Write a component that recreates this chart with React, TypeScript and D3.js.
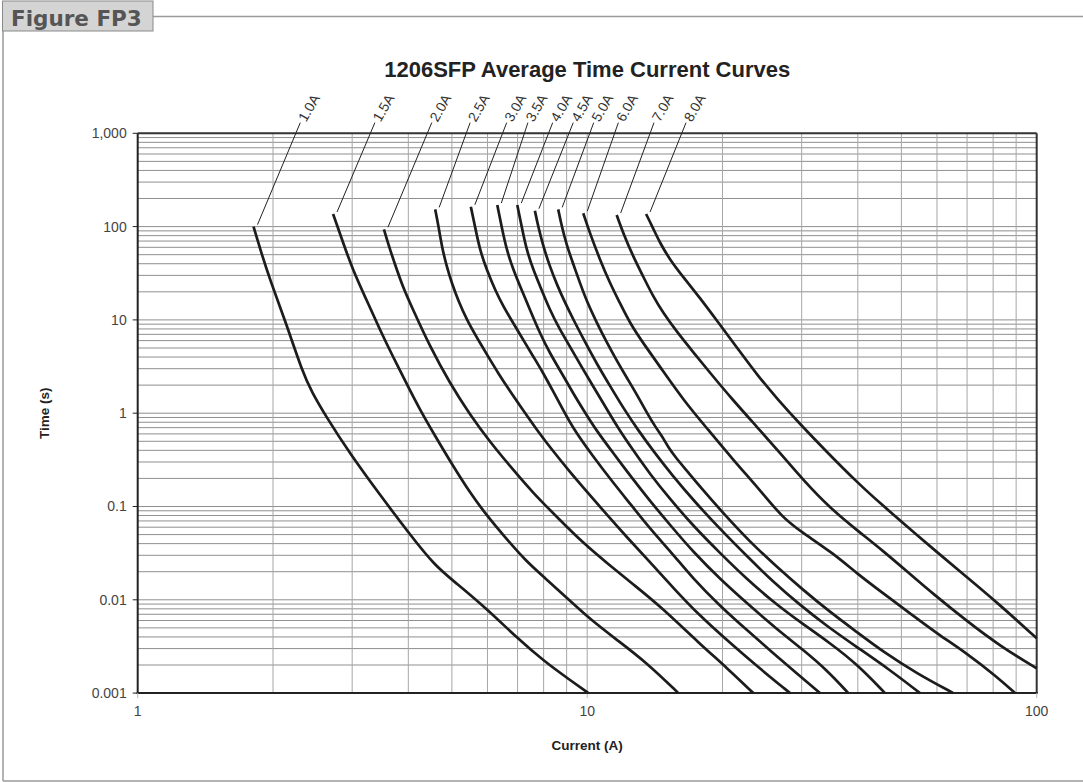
import * as d3 from "d3";

// fuse ratings, left to right
const RATINGS = ["1.0A", "1.5A", "2.0A", "2.5A", "3.0A", "3.5A", "4.0A", "4.5A", "5.0A", "6.0A", "7.0A", "8.0A"];

// [current (A), time (s)]
const curve1_0: [number, number][] = [
  [1.81, 100], [1.89, 49.6], [1.97, 26.8], [2.13, 9.73], [2.33, 2.7], [2.44, 1.69], [2.62, 0.933], [2.97, 0.365],
  [3.46, 0.133], [4.04, 0.0495], [4.59, 0.023], [5.08, 0.0155], [6.02, 0.00777], [6.98, 0.0039], [8.06, 0.00215],
  [9.16, 0.00138], [10.06, 0.001],
];
const curve1_5: [number, number][] = [
  [2.72, 136.5], [2.776, 104], [2.85, 71.8], [3.01, 34.3], [3.23, 16.3], [3.46, 7.79], [3.7, 4.0], [4.0, 1.91],
  [4.25, 1.08], [4.59, 0.569], [5.03, 0.272], [5.49, 0.14], [5.99, 0.0791], [6.56, 0.0471], [7.27, 0.0267],
  [8.06, 0.0171], [9.02, 0.01045], [10.14, 0.00622], [11.65, 0.00371], [13.59, 0.0021], [15.95, 0.001],
];
const curve2_0: [number, number][] = [
  [3.53, 93.6], [3.62, 62], [3.74, 38.8], [3.89, 22.5], [4.1, 12.8], [4.47, 5.16], [4.95, 2.09], [5.49, 0.956],
  [6.08, 0.491], [6.73, 0.272], [7.57, 0.14], [8.61, 0.0753], [9.79, 0.0406], [11.13, 0.0242], [12.71, 0.0144],
  [14.52, 0.00858], [17.82, 0.00336], [20.47, 0.00186], [23.42, 0.001],
];
const curve2_5: [number, number][] = [
  [4.59, 153], [4.67, 100], [4.75, 60.9], [4.87, 37.2], [5.0, 24.7], [5.17, 15.9], [5.4, 9.97], [5.69, 6.4],
  [5.99, 4.21], [6.34, 2.68], [6.73, 1.73], [7.2, 1.08], [7.73, 0.661], [8.39, 0.393], [9.16, 0.234],
  [10.04, 0.14], [11.07, 0.0811], [12.24, 0.0471], [13.79, 0.0254], [15.54, 0.0134], [17.82, 0.0067],
  [20.44, 0.00371], [23.42, 0.00209], [28.27, 0.001],
];
const curve3_0: [number, number][] = [
  [5.51, 163], [5.63, 100], [5.77, 56.1], [5.98, 34.3], [6.24, 20.9], [6.51, 13.9], [6.85, 9.2], [7.21, 6.09],
  [7.59, 4.03], [7.99, 2.68], [8.39, 1.73], [8.84, 1.08], [9.35, 0.661], [10.25, 0.356], [11.3, 0.192],
  [12.52, 0.104], [13.87, 0.056], [15.44, 0.0317], [17.22, 0.0167], [19.74, 0.00858], [22.64, 0.00475],
  [25.94, 0.00267], [29.24, 0.00163], [32.95, 0.001],
];
const curve3_5: [number, number][] = [
  [6.31, 170], [6.45, 100], [6.62, 56.1], [6.85, 34.3], [7.15, 20.9], [7.46, 12.8], [7.85, 7.18], [8.26, 4.39],
  [8.78, 2.68], [9.31, 1.63], [9.84, 1.056], [10.46, 0.661], [11.42, 0.375], [12.58, 0.202], [13.79, 0.115],
  [15.29, 0.0633], [17.22, 0.0325], [19.74, 0.0167], [23.03, 0.00858], [26.4, 0.00486], [30.25, 0.0029],
  [34.11, 0.00177], [38.1, 0.001],
];
const curve4_0: [number, number][] = [
  [6.99, 170], [7.15, 100], [7.33, 56.1], [7.59, 34.3], [7.92, 20.9], [8.26, 12.8], [8.7, 7.79], [9.16, 5.16],
  [9.69, 3.21], [10.3, 1.96], [10.95, 1.195], [11.71, 0.694], [12.64, 0.403], [13.79, 0.223], [15.29, 0.12],
  [17.22, 0.0618], [19.74, 0.0317], [22.64, 0.0167], [25.94, 0.00947], [29.74, 0.00578], [34.68, 0.00344],
  [39.78, 0.00205], [45.98, 0.001],
];
const curve4_5: [number, number][] = [
  [7.65, 148], [7.78, 100], [7.99, 60.9], [8.26, 37.2], [8.57, 23.7], [8.93, 15.2], [9.35, 9.73], [9.89, 5.8],
  [10.51, 3.37], [11.24, 1.96], [12.07, 1.11], [12.97, 0.661], [14.08, 0.384], [15.44, 0.218], [17.22, 0.117],
  [19.74, 0.0574], [22.64, 0.0295], [25.94, 0.0155], [29.74, 0.0088], [34.11, 0.00524], [39.78, 0.00312],
  [47.17, 0.00177], [55.0, 0.001],
];
const curve5_0: [number, number][] = [
  [8.62, 153], [8.78, 100], [9.0, 63.5], [9.31, 39.7], [9.64, 24.7], [9.99, 15.6], [10.51, 9.26], [11.07, 5.66],
  [11.65, 3.63], [12.26, 2.38], [12.91, 1.57], [13.59, 1.0], [14.23, 0.694], [14.67, 0.569], [15.13, 0.434],
  [15.76, 0.331], [16.76, 0.234], [17.82, 0.163], [20.08, 0.0846], [23.03, 0.0416], [26.4, 0.0226],
  [30.25, 0.0127], [34.68, 0.0074], [39.78, 0.00452], [45.58, 0.00276], [54.08, 0.00163], [65.24, 0.001],
];
const curve6_0: [number, number][] = [
  [9.8, 139], [10.14, 84.8], [10.68, 43.9], [11.24, 24.7], [11.83, 15.1], [12.45, 9.2], [13.33, 5.61],
  [14.52, 3.15], [16.36, 1.385], [18.6, 0.661], [21.14, 0.315], [24.24, 0.15], [27.13, 0.0772], [29.74, 0.0546],
  [35.28, 0.0315], [39.78, 0.0192], [45.58, 0.0117], [52.25, 0.00717], [59.93, 0.00437], [69.88, 0.00267],
  [81.47, 0.0015], [89.47, 0.001],
];
const curve7_0: [number, number][] = [
  [11.63, 133], [12.03, 84.8], [12.66, 47.6], [13.33, 29], [14.03, 17.7], [14.77, 11.8], [15.84, 7.42],
  [17.2, 4.53], [18.86, 2.63], [20.99, 1.42], [23.87, 0.711], [27.31, 0.342], [30.25, 0.192], [34.68, 0.0964],
  [39.78, 0.056], [45.58, 0.0333], [52.25, 0.0189], [58.88, 0.01154], [69.88, 0.00593], [82.86, 0.0032],
  [100, 0.00184],
];
const curve8_0: [number, number][] = [
  [13.52, 136.5], [13.94, 101.5], [14.52, 66.7], [15.29, 43.9], [16.42, 28.1], [17.82, 17.2], [19.54, 9.49],
  [21.65, 4.88], [23.99, 2.5], [26.62, 1.385], [29.74, 0.766], [33.98, 0.393], [39.78, 0.183], [45.58, 0.1012],
  [52.25, 0.0574], [58.88, 0.035], [69.88, 0.01755], [82.86, 0.0088], [100, 0.00387],
];

const CURVES = [curve1_0, curve1_5, curve2_0, curve2_5, curve3_0, curve3_5, curve4_0, curve4_5, curve5_0, curve6_0, curve7_0, curve8_0];

// where the leader lines end, above the plot
const LABEL_CURRENTS = [2.3, 3.37, 4.51, 5.49, 6.62, 7.38, 8.38, 9.31, 10.34, 11.73, 14.08, 16.59];
const LABEL_TIME = 1300;

const X_TICKS = [1, 10, 100];
const X_TICK_LABELS = ["1", "10", "100"];
const Y_TICKS = [1000, 100, 10, 1, 0.1, 0.01, 0.001];
const Y_TICK_LABELS = ["1,000", "100", "10", "1", "0.1", "0.01", "0.001"];

const W = 1083;
const H = 782;
const PLOT = { left: 137.7, right: 1036.7, top: 133.3, bottom: 693.1 };
const FONT = "'Liberation Sans', Arial, sans-serif";

export default function App() {
  const x = d3.scaleLog().domain([1, 100]).range([PLOT.left, PLOT.right]);
  const y = d3.scaleLog().domain([0.001, 1000]).range([PLOT.bottom, PLOT.top]);

  const line = d3
    .line<[number, number]>()
    .x((d) => x(d[0]))
    .y((d) => y(d[1]))
    .curve(d3.curveBasis);

  // minor grid values
  const vGrid: number[] = [];
  for (const dec of [1, 10]) for (let k = 2; k <= 9; k++) vGrid.push(k * dec);
  vGrid.push(10);
  const hGrid: number[] = [];
  for (const dec of [0.001, 0.01, 0.1, 1, 10, 100]) for (let k = 1; k <= 9; k++) hGrid.push(k * dec);

  return (
    <div style={{ position: "absolute", left: 0, top: 0 }}>
      <svg width={W} height={H} fontFamily={FONT}>
        <rect width={W} height={H} fill="#fff" />

        {/* figure frame */}
        <line x1={3} y1={31} x2={3} y2={781} stroke="#9a9a9a" strokeWidth={1.5} />
        <line x1={153} y1={16.5} x2={W} y2={16.5} stroke="#9a9a9a" strokeWidth={1.5} />
        <line x1={3} y1={781} x2={W} y2={781} stroke="#9a9a9a" strokeWidth={1.5} />
        <rect x={2.5} y={1} width={150.5} height={30} fill="#d4d4d4" stroke="#8a8a8a" strokeWidth={1} />
        <text x={11} y={26} fontFamily="'DejaVu Sans', sans-serif" fontWeight="bold" fontSize={21.5} fill="#555">
          Figure FP3
        </text>

        <text x={(PLOT.left + PLOT.right) / 2} y={77} textAnchor="middle" fontWeight="bold" fontSize={22} fill="#222">
          1206SFP Average Time Current Curves
        </text>

        {/* grid */}
        {hGrid.map((v, i) => (
          <line key={"h" + i} x1={PLOT.left} x2={PLOT.right} y1={y(v)} y2={y(v)} stroke="#8f8f8f" strokeWidth={1} />
        ))}
        {vGrid.map((v, i) => (
          <line key={"v" + i} x1={x(v)} x2={x(v)} y1={PLOT.top} y2={PLOT.bottom} stroke="#a6a6a6" strokeWidth={1} />
        ))}

        {/* frame of plot */}
        <line x1={PLOT.left} x2={PLOT.right} y1={PLOT.top} y2={PLOT.top} stroke="#333" strokeWidth={2} />
        <line x1={PLOT.right} x2={PLOT.right} y1={PLOT.top} y2={PLOT.bottom} stroke="#333" strokeWidth={2} />
        <line x1={PLOT.left} x2={PLOT.left} y1={PLOT.top} y2={PLOT.bottom + 1} stroke="#222" strokeWidth={2} />
        <line x1={PLOT.left - 1} x2={PLOT.right + 1} y1={PLOT.bottom} y2={PLOT.bottom} stroke="#222" strokeWidth={2} />

        {/* y axis */}
        {Y_TICKS.map((v, i) => (
          <g key={"yt" + i}>
            <line x1={PLOT.left - 5} x2={PLOT.left} y1={y(v)} y2={y(v)} stroke="#222" />
            <text x={PLOT.left - 11} y={y(v)} dy="0.35em" textAnchor="end" fontSize={14} fill="#444">
              {Y_TICK_LABELS[i]}
            </text>
          </g>
        ))}
        {/* x axis */}
        {X_TICKS.map((v, i) => (
          <g key={"xt" + i}>
            <line x1={x(v)} x2={x(v)} y1={PLOT.bottom} y2={PLOT.bottom + 5} stroke="#bbb" />
            <text x={x(v)} y={716} textAnchor="middle" fontSize={14} fill="#444">
              {X_TICK_LABELS[i]}
            </text>
          </g>
        ))}

        <text
          transform={`translate(49,${(PLOT.top + PLOT.bottom) / 2}) rotate(-90)`}
          textAnchor="middle"
          fontWeight="bold"
          fontSize={13.5}
          fill="#222"
        >
          Time (s)
        </text>
        <text x={(PLOT.left + PLOT.right) / 2} y={750} textAnchor="middle" fontWeight="bold" fontSize={13.5} fill="#222">
          Current (A)
        </text>

        {/* curves */}
        {CURVES.map((c, i) => (
          <path key={"c" + i} d={line(c) ?? ""} fill="none" stroke="#1c1c1c" strokeWidth={2.7} strokeLinejoin="round" />
        ))}

        {/* leader lines and rating labels */}
        {CURVES.map((c, i) => {
          const x0 = x(c[0][0]) + 4;
          const y0 = y(c[0][1]) - 2;
          const x1 = x(LABEL_CURRENTS[i]);
          const y1 = y(LABEL_TIME);
          return (
            <g key={"l" + i}>
              <line x1={x0} y1={y0} x2={x1} y2={y1} stroke="#222" strokeWidth={1} />
              <text
                transform={`translate(${x1 + 2},${y1 - 2}) rotate(-60)`}
                fontSize={14}
                fill="#333"
                dy="0.3em"
              >
                {RATINGS[i]}
              </text>
            </g>
          );
        })}
      </svg>
    </div>
  );
}
